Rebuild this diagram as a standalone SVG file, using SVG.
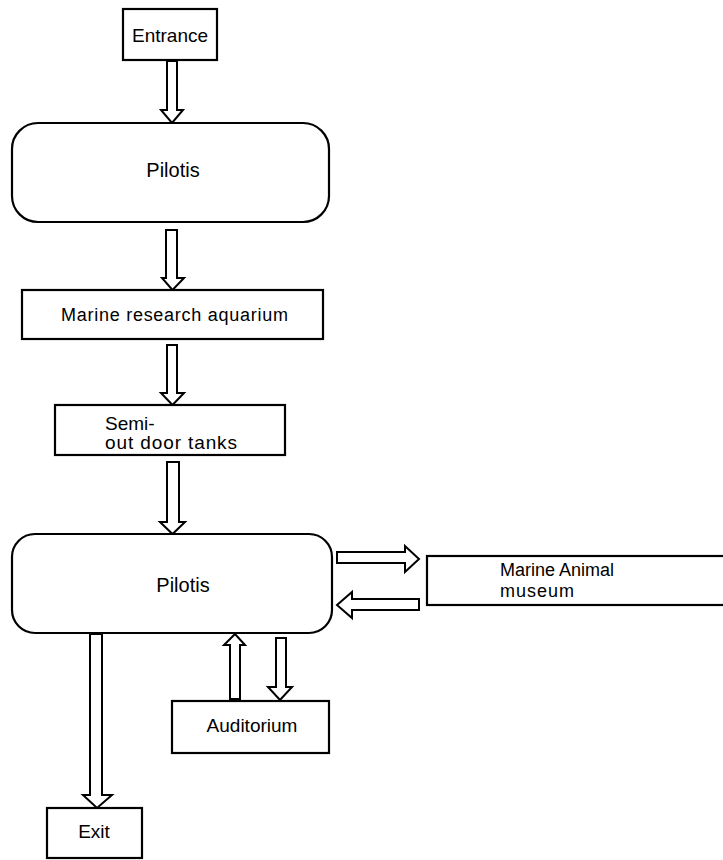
<svg xmlns="http://www.w3.org/2000/svg" width="723" height="860" viewBox="0 0 723 860">
<style>
.box{fill:#fff;stroke:#000;stroke-width:2.2}
.arr{fill:#fff;stroke:#000;stroke-width:2;stroke-linejoin:miter}
text{font-family:"Liberation Sans",Arial,sans-serif;fill:#000}
</style>
<rect width="723" height="860" fill="#fff"/>
<g id="connectors">
<polygon class="arr" points="167,61 177,61 177,110 183,110 172,123 161,110 167,110"/>
<polygon class="arr" points="166,230 177,230 177,278 184,278 172.5,290 162,278 166,278"/>
<polygon class="arr" points="167,345 177,345 177,393 184,393 172.5,405 161,393 167,393"/>
<polygon class="arr" points="167,462 179,462 179,522 185,522 172.5,534 160,522 167,522"/>
<polygon class="arr" points="337,552 405,552 405,546 419,559 405,572 405,563 337,563"/>
<polygon class="arr" points="419,599 352,599 352,592 337,605 352,618 352,610 419,610"/>
<polygon class="arr" points="230,699 240,699 240,645 245,645 235,634 224,645 230,645"/>
<polygon class="arr" points="276,638 286,638 286,687 292,687 280,700 268,687 276,687"/>
<polygon class="arr" points="90,634 102,634 102,795 112,795 97,808 83,795 90,795"/>
</g>
<g id="entrance">
<rect class="box" x="123" y="9" width="94" height="51"/>
<text x="170" y="42" font-size="19" text-anchor="middle">Entrance</text>
</g>
<g id="pilotis-top">
<rect class="box" x="12" y="123" width="317" height="99" rx="26" ry="26"/>
<text x="173" y="177" font-size="20" text-anchor="middle">Pilotis</text>
</g>
<g id="marine-research-aquarium">
<rect class="box" x="22" y="290" width="301" height="49"/>
<text x="61" y="321" font-size="18" textLength="227" lengthAdjust="spacing">Marine research aquarium</text>
</g>
<g id="semi-out-door-tanks">
<rect class="box" x="55" y="405" width="230" height="50"/>
<text x="105" y="430" font-size="19">Semi-</text>
<text x="105" y="449" font-size="19" textLength="132" lengthAdjust="spacing">out door tanks</text>
</g>
<g id="pilotis-bottom">
<rect class="box" x="12" y="534" width="320" height="99" rx="23" ry="23"/>
<text x="183" y="592" font-size="20" text-anchor="middle">Pilotis</text>
</g>
<g id="marine-animal-museum">
<rect class="box" x="427" y="556" width="310" height="49"/>
<text x="500" y="576" font-size="18">Marine Animal</text>
<text x="500" y="597" font-size="18" textLength="74" lengthAdjust="spacing">museum</text>
</g>
<g id="auditorium">
<rect class="box" x="172" y="701" width="157" height="52"/>
<text x="252" y="732" font-size="19" text-anchor="middle">Auditorium</text>
</g>
<g id="exit">
<rect class="box" x="47" y="808" width="95" height="50"/>
<text x="94" y="838" font-size="19" text-anchor="middle">Exit</text>
</g>
</svg>
